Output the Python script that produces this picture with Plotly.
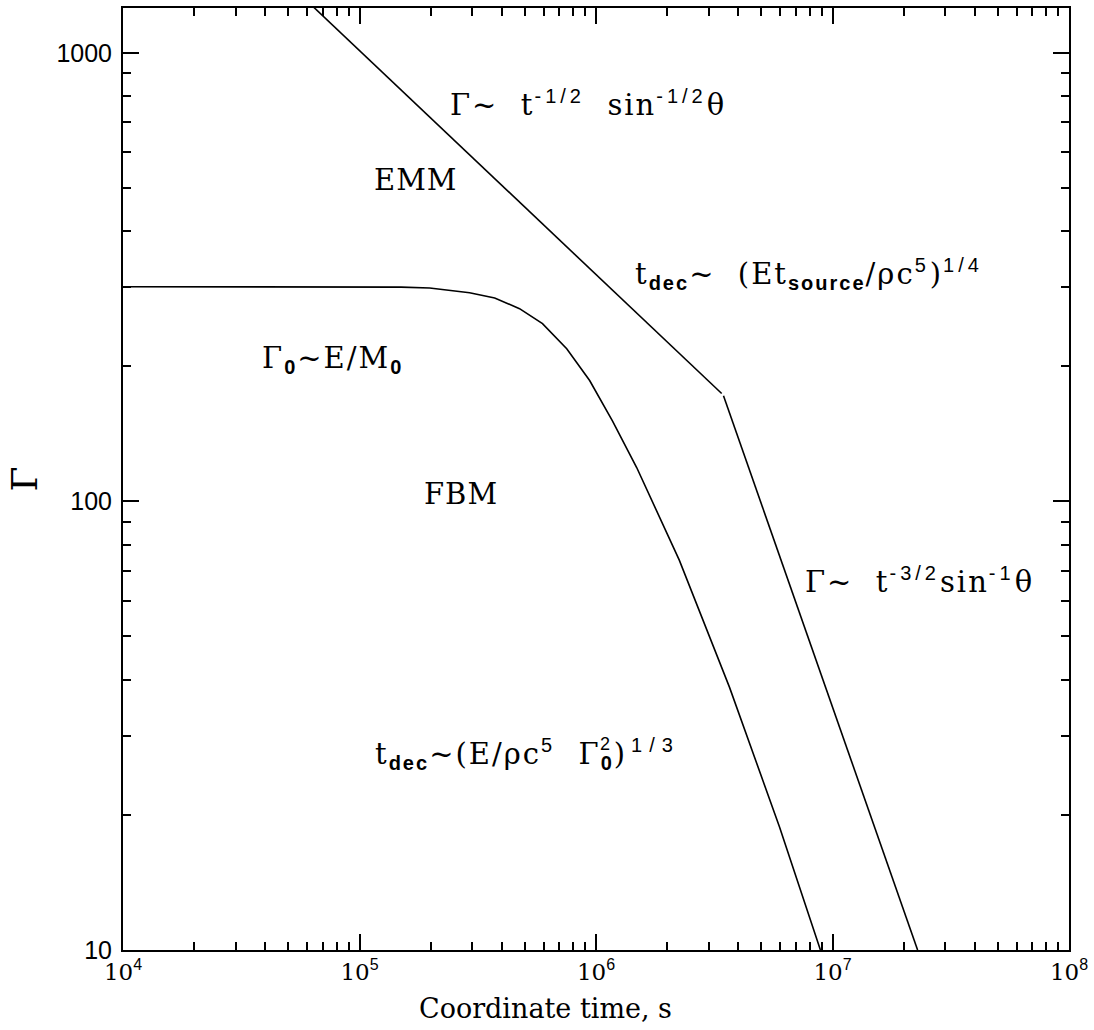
import plotly.graph_objects as go

# Upper curve (EMM), two power-law branches
emm1_t = [5.0e4, 3.40e6]
emm1_g = [1430, 174]
emm2_t = [3.46e6, 2.29e7]
emm2_g = [172, 10]

# Lower curve (FBM)
fbm_t = [1.0e4, 1.0e5, 1.5e5, 1.98e5, 2.92e5, 3.73e5, 4.75e5, 5.94e5, 7.52e5,
         9.4e5, 1.175e6, 1.486e6, 2.25e6, 3.67e6, 5.97e6, 8.89e6]
fbm_g = [301, 301, 300.5, 299, 292, 284, 269, 249, 219,
         186, 151, 119, 74, 38.5, 18.8, 10]

x_tickvals = [1e4, 1e5, 1e6, 1e7, 1e8]
x_exps = ["4", "5", "6", "7", "8"]
y_tickvals = [10, 100, 1000]
y_ticktext = ["10", "100", "1000"]

SERIF = "DejaVu Serif"
SANS = "Liberation Sans"


def sup(s, size=20, ls=4):
    return ('<sup><span style="font-size:%dpx;font-family:%s;letter-spacing:%dpx">%s</span></sup>'
            % (size, SANS, ls, s))


def sub(s, size=20, ls=2):
    return ('<sub><span style="font-size:%dpx;font-family:%s;font-weight:bold;letter-spacing:%dpx">%s</span></sub>'
            % (size, SANS, ls, s))


def main(s, ls=2):
    return '<span style="letter-spacing:%dpx">%s</span>' % (ls, s)


NB = "\u00a0"
x_ticktext = ["10" + sup(e, size=16, ls=0) for e in x_exps]

fig = go.Figure()
line = dict(color="black", width=1.6)
fig.add_trace(go.Scatter(x=emm1_t, y=emm1_g, mode="lines", line=line, showlegend=False))
fig.add_trace(go.Scatter(x=emm2_t, y=emm2_g, mode="lines", line=line, showlegend=False))
fig.add_trace(go.Scatter(x=fbm_t, y=fbm_g, mode="lines", line=line, showlegend=False))

annos = [
    (5.374, 2.888, main("Γ~" + NB + " t") + sup("-1/2") + main(NB + NB + "sin") + sup("-1/2") + main("θ"), "left"),
    (5.239, 2.717, main("EMM", 1), "center"),
    (6.156, 2.508, main("t") + sub("dec") + main("~" + NB + " (Et") + sub("source") + main("/ρc") + sup("5") + main(")") + sup("1/4"), "left"),
    (4.579, 2.317, main("Γ") + sub("0") + main("~E/M") + sub("0"), "left"),
    (5.429, 2.017, main("FBM", 1), "center"),
    (6.875, 1.823, main("Γ~" + NB + " t") + sup("-3/2") + main("sin") + sup("-1") + main("θ"), "left"),
    (5.057, 1.438, main("t") + sub("dec") + main("~(E/ρc") + sup("5") + main(NB + NB + "Γ") + sub("0") + main(")", 6) + sup("1/3", ls=7), "left"),
]
for x, y, txt, anc in annos:
    fig.add_annotation(x=x, y=y, xref="x", yref="y", text=txt, showarrow=False,
                       xanchor=anc, yanchor="middle",
                       font=dict(family=SERIF, size=29, color="black"))

# stacked superscript "2" over the subscript 0 of Γ0 in the t_dec formula
fig.add_annotation(x=4 + (605 - 123) / 236.5, y=1 + (950 - 744) / 449.5, xref="x", yref="y",
                   text="2", showarrow=False, xanchor="center", yanchor="middle",
                   font=dict(family=SANS, size=18, color="black"))

# x-axis title (offset to the left, as in the original)
fig.add_annotation(x=(545 - 123) / 946, y=-59 / 944, xref="paper", yref="paper",
                   text="Coordinate time, s", showarrow=False,
                   xanchor="center", yanchor="middle",
                   font=dict(family=SERIF, size=27, color="black"))

axis_common = dict(
    type="log", showgrid=False, zeroline=False,
    showline=True, linecolor="black", linewidth=2, mirror="allticks",
    ticks="inside", ticklen=16, tickwidth=1.5, tickcolor="black",
    minor=dict(ticks="inside", ticklen=8, tickwidth=1.5, tickcolor="black", dtick="D1", showgrid=False),
)
fig.update_xaxes(range=[4, 8], tickvals=x_tickvals, ticktext=x_ticktext,
                 tickfont=dict(family=SERIF, size=23, color="black"),
                 **axis_common)
fig.update_yaxes(range=[1, 3.1], tickvals=y_tickvals, ticktext=y_ticktext,
                 tickfont=dict(family=SANS, size=25, color="black"),
                 ticklabelstandoff=4,
                 title=dict(text="Γ", font=dict(family=SERIF, size=36, color="black"), standoff=8),
                 **axis_common)
fig.update_layout(width=1094, height=1030, paper_bgcolor="white", plot_bgcolor="white",
                  margin=dict(l=123, r=25, t=6, b=80))
fig.write_html("out.html")
